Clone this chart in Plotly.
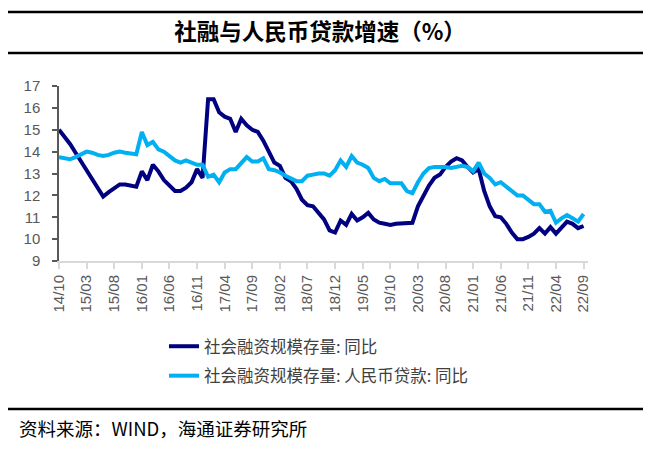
import plotly.graph_objects as go

# ---- data ----
tick_labels = ["14/10", "15/03", "15/08", "16/01", "16/06", "16/11", "17/04", "17/09",
               "18/02", "18/07", "18/12", "19/05", "19/10", "20/03", "20/08", "21/01",
               "21/06", "21/11", "22/04", "22/09"]

tsf_yoy = [15.0, 14.7, 14.35, 13.95, 13.55, 13.15, 12.75, 12.35, 11.95, 12.15,
           12.3, 12.5, 12.5, 12.45, 12.4, 13.1, 12.7, 13.4, 13.1, 12.7,
           12.45, 12.2, 12.2, 12.35, 12.6, 13.2, 12.8, 16.4, 16.4, 15.8,
           15.6, 15.5, 14.9, 15.5, 15.2, 15.0, 14.9, 14.5, 14.0, 13.5,
           13.35, 12.8, 12.65, 12.3, 11.8, 11.55, 11.5, 11.2, 10.9, 10.4,
           10.3, 10.85, 10.65, 11.15, 10.85, 11.0, 11.2, 10.9, 10.75, 10.7,
           10.65, 10.7, 10.72, 10.73, 10.75, 11.5, 12.0, 12.45, 12.8, 12.95,
           13.3, 13.55, 13.7, 13.6, 13.3, 13.05, 13.2, 12.2, 11.5, 11.05,
           11.0, 10.7, 10.3, 10.0, 10.0, 10.1, 10.25, 10.5, 10.25, 10.55,
           10.25, 10.55, 10.8, 10.7, 10.5, 10.6]

loan_yoy = [13.75, 13.7, 13.65, 13.75, 13.9, 14.0, 13.95, 13.85, 13.8, 13.85,
            13.95, 14.0, 13.95, 13.9, 13.88, 14.9, 14.3, 14.45, 14.1, 14.0,
            13.8, 13.6, 13.5, 13.6, 13.5, 13.4, 13.4, 12.85, 12.95, 12.6,
            13.05, 13.2, 13.2, 13.5, 13.75, 13.55, 13.55, 13.7, 13.2, 13.15,
            13.05, 12.9, 12.75, 12.65, 12.65, 12.9, 12.95, 13.0, 13.0, 12.9,
            13.15, 13.6, 13.3, 13.8, 13.5, 13.4, 13.25, 12.8, 12.65, 12.75,
            12.55, 12.55, 12.55, 12.2, 12.1, 12.6, 13.0, 13.25, 13.3, 13.3,
            13.3, 13.25, 13.3, 13.35, 13.3, 13.1, 13.5, 13.0, 12.8, 12.5,
            12.6, 12.4, 12.2, 12.0, 12.0, 11.8, 11.6, 11.6, 11.25, 11.3,
            10.75, 10.95, 11.1, 10.95, 10.8, 11.15]

series_names = ["社会融资规模存量: 同比", "社会融资规模存量: 人民币贷款: 同比"]

months = list(range(len(tsf_yoy)))
tick_positions = [i * 5 for i in range(len(tick_labels))]

# ---- layout geometry (page pixels; the page body adds an 8px offset) ----
OFF = 8
W, H = 651 - OFF, 469 - OFF
PLOT_L, PLOT_R, PLOT_T, PLOT_B = 59, 588, 86, 261   # plot area in page pixels
L, R, T, B = PLOT_L - OFF, W - (PLOT_R - OFF), PLOT_T - OFF, H - (PLOT_B - OFF)
XMAX = 95.8
pw = W - L - R
ph = H - T - B

def px(x):
    return (x - OFF - L) / pw

def py(y):
    return (H - B - (y - OFF)) / ph

CJK = "Noto Sans CJK SC"

fig = go.Figure()
fig.add_trace(go.Scatter(x=months, y=tsf_yoy, mode="lines", name=series_names[0],
                         line=dict(color="#000080", width=4), legendgroup="a"))
fig.add_trace(go.Scatter(x=months, y=loan_yoy, mode="lines", name=series_names[1],
                         line=dict(color="#00B0F0", width=4), legendgroup="b"))

fig.update_layout(
    width=W, height=H,
    margin=dict(l=L, r=R, t=T, b=B, autoexpand=False),
    paper_bgcolor="white", plot_bgcolor="white",
    font=dict(family="Liberation Sans, Arial", color="#595959"),
    title=dict(text="<b>社融与人民币贷款增速（%）</b>", x=(320 - OFF) / W, xanchor="center",
               xref="container", yref="container", y=1 - (32 - OFF) / H, yanchor="middle",
               font=dict(family=CJK, size=22.5, color="#000000")),
    xaxis=dict(range=[0, XMAX], tickmode="array", tickvals=tick_positions,
               ticktext=tick_labels, tickangle=-90, showgrid=False, zeroline=False,
               showline=True, linecolor="#D9D9D9", linewidth=2, automargin=False,
               ticks="outside", ticklen=6, tickcolor="#D9D9D9", tickwidth=1.5,
               tickfont=dict(size=15, color="#595959", family="Liberation Sans, Arial")),
    yaxis=dict(range=[9, 17], dtick=1, showgrid=False, zeroline=False,
               showline=True, linecolor="#595959", linewidth=1.5, automargin=False,
               ticks="outside", ticklen=5, tickcolor="#595959", tickwidth=1.5,
               ticklabelstandoff=9,
               tickfont=dict(size=15, color="#595959", family="Liberation Sans, Arial")),
    showlegend=True,
    legend=dict(x=px(164), y=py(329), xanchor="left", yanchor="top",
                traceorder="grouped", tracegroupgap=5,
                font=dict(family=CJK, size=16.5, color="#404040"),
                bgcolor="rgba(0,0,0,0)"),
)

fig.add_annotation(text="资料来源：WIND，海通证券研究所", x=px(17), y=py(428),
                   xref="paper", yref="paper", showarrow=False,
                   xanchor="left", yanchor="middle",
                   font=dict(family=CJK, size=18.5, color="#000000"))
for yy in (12, 53, 409):
    fig.add_shape(type="line", xref="paper", yref="paper",
                  x0=px(5), x1=px(646), y0=py(yy), y1=py(yy),
                  line=dict(color="#000000", width=2.5))

fig.write_html("out.html")
